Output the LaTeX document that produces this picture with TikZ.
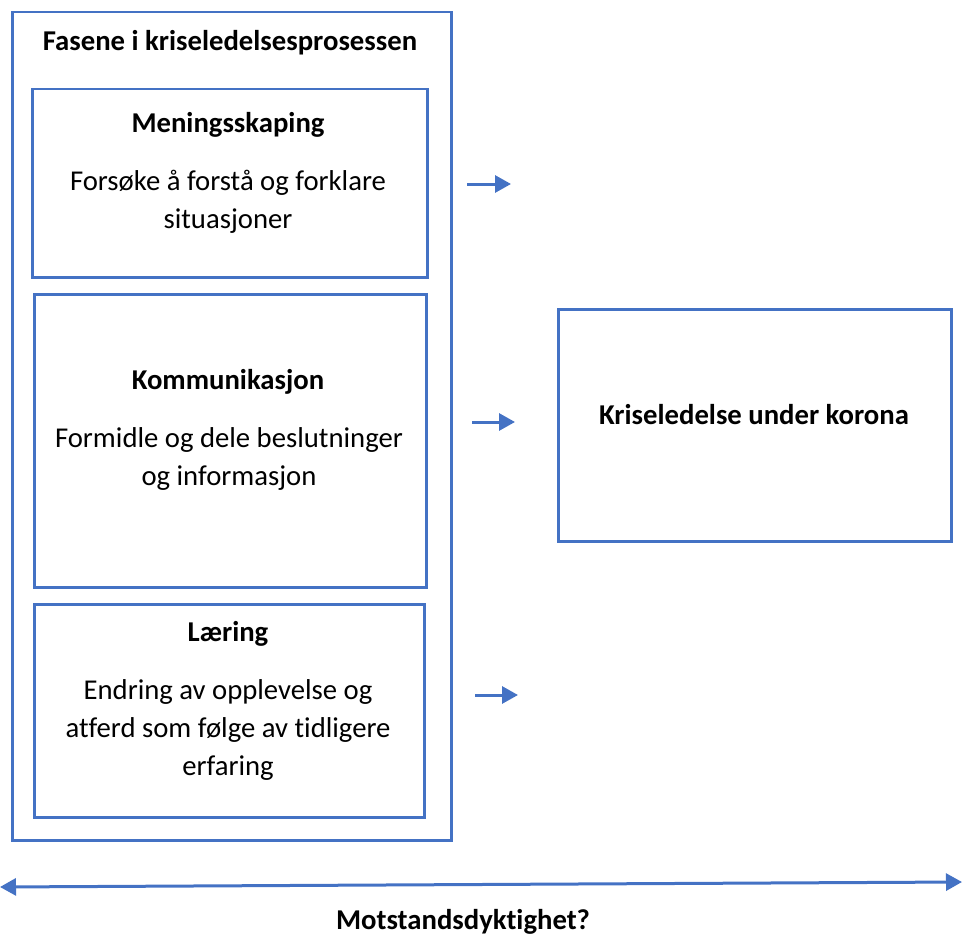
\documentclass[tikz,border=0pt]{standalone}
\usepackage{fontspec}
\setmainfont{Carlito}[Ligatures=NoCommon]
\usetikzlibrary{arrows.meta}
\definecolor{boxblue}{HTML}{4472C4}

\begin{document}
\begin{tikzpicture}[x=1pt,y=-1pt]
	\tikzset{fase/.style={draw=boxblue,line width=2.5pt,inner sep=0pt,anchor=north west}}
	\tikzset{tekst/.style={font=\fontsize{28.7}{38}\selectfont,align=center,inner sep=0pt}}
	\tikzset{tittel/.style={tekst,font=\fontsize{28.7}{38}\selectfont\bfseries}}
	\tikzset{pil/.style={draw=boxblue,line width=3pt,-{Triangle[length=16pt,width=17pt]}}}
	\useasboundingbox (0,0) rectangle (962,942);

	% boksene
	\node[fase,minimum width=439pt,minimum height=828pt] (ytre) at (11,11) {};
	\node[fase,minimum width=395pt,minimum height=188pt] (mening) at (31,88) {};
	\node[fase,minimum width=392pt,minimum height=293pt] (komm) at (33,293) {};
	\node[fase,minimum width=390pt,minimum height=213pt] (laering) at (33,603) {};
	\node[fase,minimum width=393pt,minimum height=232pt] (korona) at (557,308) {};

	% tekstene
	\node[tittel] (fasene) at (230,43) {Fasene i kriseledelsesprosessen};
	\node[tittel] (t1) at (228,125) {Meningsskaping};
	\node[tekst] (b1) at (228,202) {Forsøke å forstå og forklare\\situasjoner};
	\node[tittel] (t2) at (228,382) {Kommunikasjon};
	\node[tekst] (b2) at (229,459) {Formidle og dele beslutninger\\og informasjon};
	\node[tittel] (t3) at (228,634) {Læring};
	\node[tekst] (b3) at (228,730) {Endring av opplevelse og\\atferd som følge av tidligere\\erfaring};
	\node[tittel] (tk) at (754,415) {Kriseledelse under korona};
	\node[tittel] (motstand) at (463,922) {Motstandsdyktighet?};

	% pilene
	\coordinate (p1a) at (467,184); \coordinate (p1b) at (511,184);
	\coordinate (p2a) at (472,422); \coordinate (p2b) at (515,422);
	\coordinate (p3a) at (475,695); \coordinate (p3b) at (518,695);
	\draw[pil] (p1a) -- (p1b);
	\draw[pil] (p2a) -- (p2b);
	\draw[pil] (p3a) -- (p3b);
	\coordinate (venstre) at (0,887); \coordinate (hoyre) at (962,882);
	\draw[pil,{Triangle[length=16pt,width=17pt]}-{Triangle[length=16pt,width=17pt]}] (venstre) -- (hoyre);
\end{tikzpicture}
\end{document}
